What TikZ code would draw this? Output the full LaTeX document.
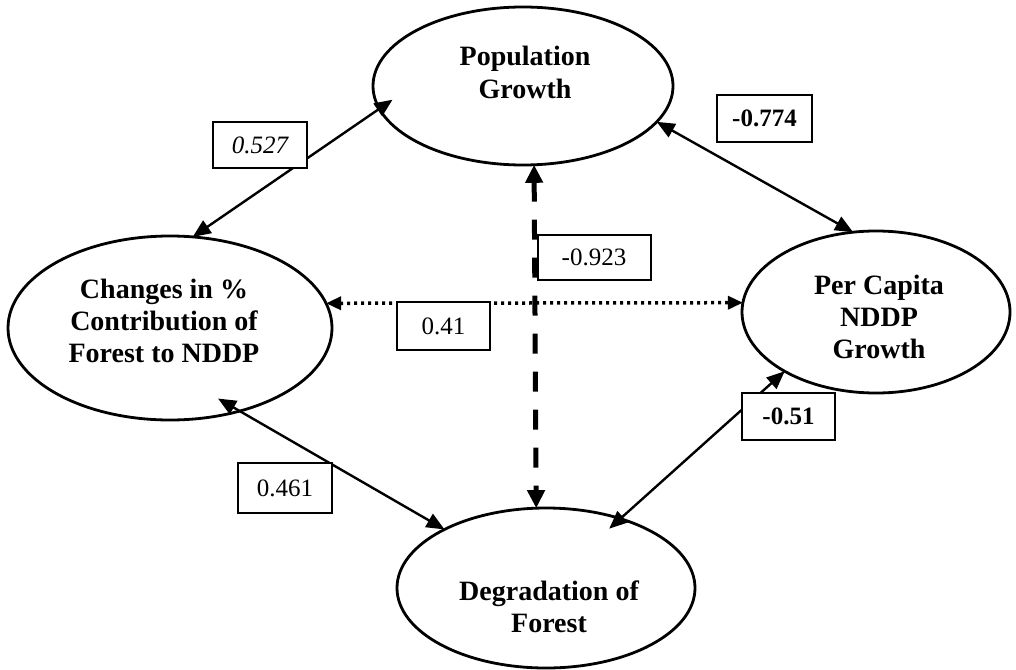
\documentclass[tikz,border=0pt]{standalone}
\usepackage{fontspec}
\setmainfont{Liberation Serif}
\usetikzlibrary{shapes.geometric,arrows.meta}
\begin{document}
\begin{tikzpicture}[x=1pt,y=-1pt,
  ell/.style={draw,ellipse,line width=2.8pt,inner sep=0pt,outer sep=0pt},
  lbl/.style={font=\fontsize{28}{32}\selectfont\bfseries,anchor=base,inner sep=0pt},
  numbox/.style={draw,line width=2pt,inner sep=0pt,fill=white,font=\fontsize{25}{28}\selectfont},
  tipS/.tip={Triangle[length=18pt,width=15pt]},
  tipD/.tip={Triangle[length=18pt,width=17pt]},
  tipP/.tip={Triangle[length=15pt,width=13pt]},
  conn/.style={line width=2.4pt,tipS-tipS},
  dashconn/.style={line width=5pt,dash pattern=on 20pt off 18pt,tipD-tipD},
  dotconn/.style={line width=3.5pt,dash pattern=on 3pt off 4pt,tipP-tipP}
]
\useasboundingbox (0,0) rectangle (1016,669);

% ellipses
\node[ell,minimum width=300,minimum height=158] (pop) at (523,86) {};
\node[ell,minimum width=324,minimum height=184] (chg) at (170,328) {};
\node[ell,minimum width=268,minimum height=162] (pcap) at (876,312) {};
\node[ell,minimum width=298,minimum height=160] (deg) at (546,588) {};

% ellipse texts
\node[lbl] (pop1) at (525,65) {Population};
\node[lbl] (pop2) at (525,98) {Growth};
\node[lbl] (chg1) at (164,298) {Changes in \%};
\node[lbl] (chg2) at (164,330) {Contribution of};
\node[lbl] (chg3) at (164,362) {Forest to NDDP};
\node[lbl] (pc1) at (879,294) {Per Capita};
\node[lbl] (pc2) at (879,326) {NDDP};
\node[lbl] (pc3) at (879,358) {Growth};
\node[lbl] (deg1) at (549,600) {Degradation of};
\node[lbl] (deg2) at (549,632) {Forest};

% connectors
\draw[conn,shorten >=-16pt] (chg.76.4) -- (pop.189.2);
\draw[conn] (pop.345) -- (pcap.106.2);
\draw[dashconn] (pop.278.7) -- (deg.97.8);
\draw[dotconn] (chg.9.1) -- (pcap.176.1);
\draw[conn,shorten >=-25pt] (deg.150) -- (chg.310.9);
\draw[conn,shorten >=-15pt] (pcap.213.4) -- (deg.43.8);

% coefficient boxes
\node[numbox,minimum width=94,minimum height=46] (b1) at (260,145) {\itshape 0.527};
\node[numbox,minimum width=95,minimum height=47] (b2) at (764.5,118.5) {\bfseries -0.774};
\node[numbox,minimum width=113,minimum height=45] (b3) at (594,257.5) {-0.923};
\node[numbox,minimum width=93,minimum height=48] (b4) at (443.5,326) {0.41};
\node[numbox,minimum width=94,minimum height=50] (b5) at (285,488) {0.461};
\node[numbox,minimum width=93,minimum height=47] (b6) at (788.5,416.5) {\bfseries -0.51};
\end{tikzpicture}
\end{document}
